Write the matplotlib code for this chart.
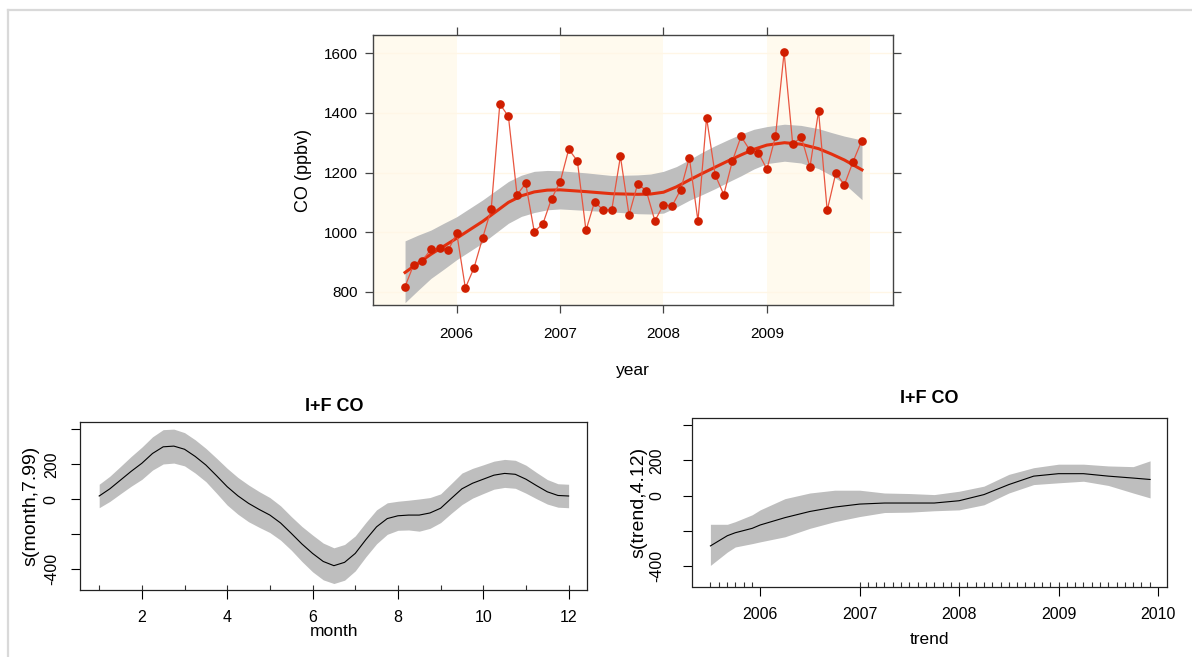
import numpy as np
import matplotlib
matplotlib.use("Agg")
import matplotlib.pyplot as plt
from matplotlib.lines import Line2D

plt.rcParams['font.family'] = ['Liberation Sans', 'DejaVu Sans']

# ---- data ----
# monthly CO (ppbv), Jul 2005 .. Dec 2009
co_ppbv = [818, 891, 904, 943, 947, 939, 997, 813, 880, 980,
           1077, 1430, 1388, 1125, 1164, 1002, 1028, 1112, 1168, 1278,
           1239, 1006, 1102, 1074, 1076, 1254, 1058, 1162, 1139, 1038,
           1092, 1088, 1143, 1250, 1038, 1384, 1192, 1126, 1239, 1321,
           1276, 1267, 1211, 1321, 1603, 1295, 1319, 1218, 1406, 1073,
           1198, 1159, 1236, 1306]
dec_year = 2005.5 + np.arange(len(co_ppbv)) / 12

# smooth trend + band (top panel)
trend_x = [2005.5, 2005.625, 2005.75, 2005.875, 2006.0, 2006.125, 2006.25,
           2006.375, 2006.5, 2006.625, 2006.75, 2006.875, 2007.0, 2007.25,
           2007.5, 2007.75, 2007.875, 2008.0, 2008.125, 2008.25, 2008.375,
           2008.5, 2008.625, 2008.75, 2008.875, 2009.0, 2009.17, 2009.33,
           2009.5, 2009.625, 2009.75, 2009.92]
trend_fit = [865, 896, 926, 953, 980, 1008, 1036, 1068, 1100, 1122, 1135,
             1141, 1142, 1136, 1129, 1127, 1128, 1134, 1152, 1175, 1197, 1218,
             1239, 1259, 1278, 1292, 1300, 1295, 1280, 1262, 1242, 1209]
trend_hi = [971, 990, 1007, 1030, 1052, 1080, 1108, 1139, 1170, 1191, 1204,
            1207, 1206, 1199, 1190, 1192, 1195, 1204, 1220, 1243, 1268, 1290,
            1310, 1329, 1345, 1354, 1362, 1358, 1347, 1334, 1322, 1309]
trend_lo = [764, 805, 845, 876, 908, 936, 964, 997, 1030, 1053, 1066, 1075,
            1078, 1073, 1068, 1062, 1061, 1064, 1084, 1107, 1126, 1146, 1168,
            1189, 1212, 1230, 1238, 1232, 1213, 1190, 1162, 1109]
shade_years = [2005, 2007, 2009]

# s(month) partial effect
month_x = [1, 1.25, 1.5, 1.75, 2, 2.25, 2.5, 2.75, 3, 3.25, 3.5, 3.75, 4,
           4.25, 4.5, 4.75, 5, 5.25, 5.5, 5.75, 6, 6.25, 6.5, 6.75, 7, 7.25,
           7.5, 7.75, 8, 8.25, 8.5, 8.75, 9, 9.25, 9.5, 9.75, 10, 10.25, 10.5,
           10.75, 11, 11.25, 11.5, 11.75, 12]
month_fit = [19, 60, 110, 160, 206, 262, 300, 304, 286, 245, 196, 135, 72,
             20, -23, -58, -90, -135, -194, -255, -309, -355, -379, -360, -309,
             -230, -157, -110, -94, -90, -90, -78, -51, 5, 60, 92, 115, 138,
             148, 143, 115, 78, 43, 22, 19]
month_hi = [86, 132, 188, 245, 298, 357, 398, 401, 381, 340, 291, 235, 177,
            125, 82, 44, 10, -37, -98, -155, -204, -250, -277, -258, -209,
            -132, -60, -20, -11, -5, 2, 10, 31, 90, 150, 177, 197, 218, 228,
            223, 195, 153, 113, 89, 86]
month_lo = [-48, -12, 32, 75, 114, 167, 202, 207, 191, 150, 101, 35, -33, -85,
            -128, -160, -190, -233, -290, -355, -414, -460, -481, -462, -409,
            -328, -254, -200, -177, -175, -182, -166, -133, -80, -30, 7, 33,
            58, 68, 63, 35, 3, -27, -45, -48]
month_rug = [1, 2, 3, 4, 5, 6, 7, 8, 9, 10, 11, 12]

# s(trend) partial effect
tr_x = [2005.5, 2005.67, 2005.75, 2005.92, 2006.0, 2006.25, 2006.5, 2006.75,
        2007.0, 2007.25, 2007.5, 2007.75, 2008.0, 2008.25, 2008.5, 2008.75,
        2009.0, 2009.25, 2009.5, 2009.75, 2009.92]
tr_fit = [-286, -228, -211, -186, -167, -125, -90, -65, -48, -42, -42, -42,
          -29, 6, 63, 111, 125, 125, 111, 100, 92]
tr_hi = [-163, -163, -148, -109, -81, -17, 15, 31, 31, 15, 12, 6, 25, 54, 121,
         159, 179, 179, 169, 165, 198]
tr_lo = [-397, -321, -292, -273, -263, -234, -186, -148, -119, -96, -94, -86,
         -81, -52, 15, 63, 73, 82, 58, 15, -13]
trend_rug = [2005.5, 2005.583, 2005.667, 2005.75, 2005.833, 2005.917] + \
            [2007 + k / 12 for k in range(36)]

W, H = 1192, 657
fig = plt.figure(figsize=(W / 100, H / 100), dpi=100)

# light frame of the original screenshot
fig.add_artist(Line2D([8 / W, 8 / W], [0, 1 - 9.5 / H], color='#d9d9d9', lw=1.6))
fig.add_artist(Line2D([8 / W, 1], [1 - 9.5 / H, 1 - 9.5 / H], color='#d9d9d9', lw=1.6))

# ---------------- top panel ----------------
ax = fig.add_axes([373 / W, 1 - 305 / H, 520 / W, 270 / H])
ax.set_xlim(2005.19, 2010.22)
ax.set_ylim(756, 1661)
for y0 in shade_years:
    ax.axvspan(y0, y0 + 1, color='#FFFAEE', lw=0, zorder=0)
for yv in [800, 1000, 1200, 1400, 1600]:
    ax.axhline(yv, color='#FFF6E6', lw=1, zorder=0.5)
ax.fill_between(trend_x, trend_lo, trend_hi, color='#BEBEBE', lw=0, zorder=1)
ax.plot(trend_x, trend_fit, color='#E3300F', lw=2.2, zorder=2)
ax.plot(dec_year, co_ppbv, color='#E8553F', lw=0.9, zorder=3,
        marker='o', ms=5.2, mfc='#D01E00', mec='#D01E00')
ax.set_xticks([2006, 2007, 2008, 2009])
ax.set_yticks([800, 1000, 1200, 1400, 1600])
ax.tick_params(direction='out', length=6, width=0.9, color='#444444',
               top=True, right=True, labeltop=False, labelright=False,
               labelsize=11, pad=5)
ax.tick_params(axis='x', pad=10)
for s in ax.spines.values():
    s.set_color('#444444')
    s.set_linewidth(1)
ax.set_ylabel('CO (ppbv)', fontsize=13)
ax.yaxis.set_label_coords(-0.118, 0.5)
ax.set_xlabel('year', fontsize=12.5)
ax.xaxis.set_label_coords(0.5, -0.215)


def gam_panel(rect, x, fit, lo, hi, rug, xlim, xticks, ylab, xlab,
              ylab_x, xlab_y, ypad, tpad):
    a = fig.add_axes(rect)
    a.fill_between(x, lo, hi, color='#BEBEBE', lw=0)
    a.plot(x, fit, color='black', lw=0.8)
    a.vlines(rug, 0, 0.03, transform=a.get_xaxis_transform(),
             color='#333333', lw=0.8)
    a.set_xlim(*xlim)
    a.set_ylim(-518, 440)
    a.set_xticks(xticks)
    a.set_yticks([-400, -200, 0, 200, 400])
    a.set_yticklabels(['-400', '', '0', '200', ''])
    a.tick_params(direction='out', length=6.5, width=0.8, labelsize=11.5)
    a.tick_params(axis='x', pad=8)
    a.tick_params(axis='y', pad=ypad)
    for lab in a.get_yticklabels():
        lab.set_rotation(90)
        lab.set_va('center')
    for s in a.spines.values():
        s.set_linewidth(0.9)
        s.set_color('#222222')
    a.set_title('I+F CO', fontsize=13, fontweight='bold', pad=tpad)
    a.set_ylabel(ylab, fontsize=14)
    a.yaxis.set_label_coords(ylab_x, 0.5)
    a.set_xlabel(xlab, fontsize=12.5)
    a.xaxis.set_label_coords(0.5, xlab_y)
    return a


gam_panel([80.4 / W, 1 - 590 / H, 507 / W, 167.7 / H],
          month_x, month_fit, month_lo, month_hi, month_rug,
          (0.56, 12.44), [2, 4, 6, 8, 10, 12], 's(month,7.99)', 'month',
          -0.08, -0.205, 9, 8)

gam_panel([692.5 / W, 1 - 586.7 / H, 474.5 / W, 168.4 / H],
          tr_x, tr_fit, tr_lo, tr_hi, trend_rug,
          (2005.32, 2010.09), [2006, 2007, 2008, 2009, 2010], 's(trend,4.12)',
          'trend', -0.094, -0.27, 14, 11)

fig.savefig('out.png', dpi=100)
